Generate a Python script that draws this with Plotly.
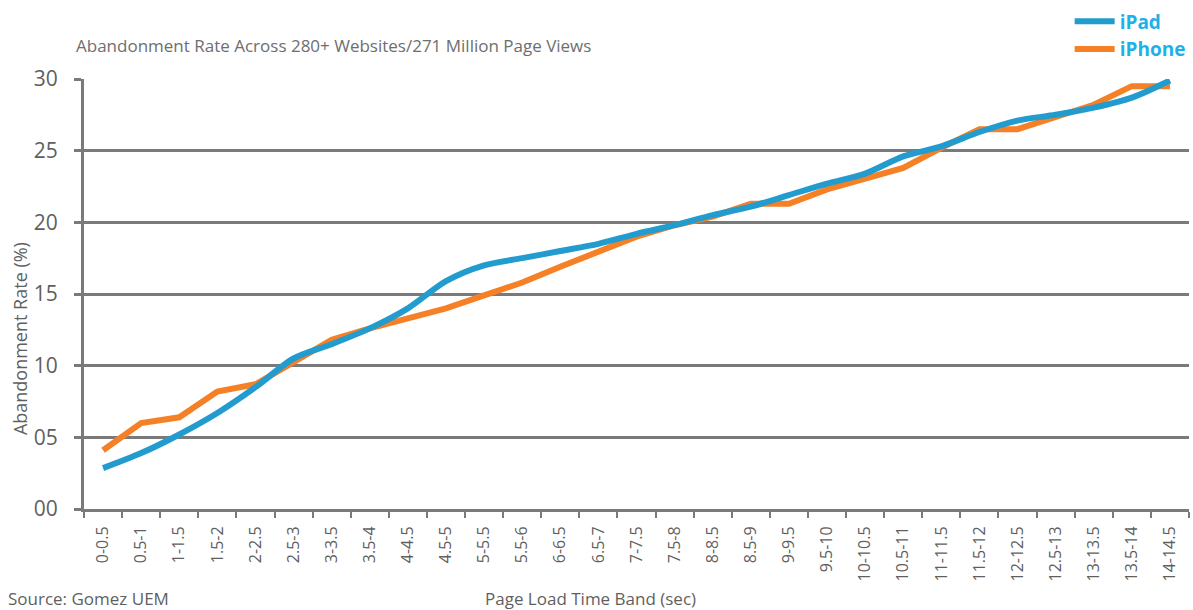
import plotly.graph_objects as go

bands = ["0-0.5", "0.5-1", "1-1.5", "1.5-2", "2-2.5", "2.5-3", "3-3.5", "3.5-4", "4-4.5",
         "4.5-5", "5-5.5", "5.5-6", "6-6.5", "6.5-7", "7-7.5", "7.5-8", "8-8.5", "8.5-9",
         "9-9.5", "9.5-10", "10-10.5", "10.5-11", "11-11.5", "11.5-12", "12-12.5",
         "12.5-13", "13-13.5", "13.5-14", "14-14.5"]

ipad = [2.85, 3.9, 5.2, 6.7, 8.5, 10.5, 11.5, 12.6, 14.0, 15.9, 17.0, 17.5, 18.0, 18.5, 19.2,
        19.8, 20.5, 21.1, 21.9, 22.7, 23.4, 24.6, 25.3, 26.3, 27.1, 27.5, 28.0, 28.7, 29.9]

iphone = [4.1, 6.0, 6.4, 8.2, 8.7, 10.3, 11.8, 12.6, 13.3, 14.0, 14.9, 15.8, 16.9, 17.9, 19.0,
          19.8, 20.4, 21.3, 21.3, 22.3, 23.0, 23.8, 25.2, 26.5, 26.5, 27.3, 28.2, 29.5, 29.5]

y_tickvals = [0, 5, 10, 15, 20, 25, 30]
y_ticktext = ["00", "05", "10", "15", "20", "25", "30"]

GRAY = "#7a7a7c"
TEXT = "#5f5f5f"
FONT = "Open Sans"

fig = go.Figure()
fig.add_trace(go.Scatter(x=bands, y=iphone, name="iPhone", mode="lines",
                         line=dict(color="#f58025", width=6), legendrank=2))
fig.add_trace(go.Scatter(x=bands, y=ipad, name="iPad", mode="lines",
                         line=dict(color="#229ccf", width=6, shape="spline", smoothing=0.8),
                         legendrank=1))

fig.update_layout(
    width=1193, height=610,
    margin=dict(l=84, r=2, t=79, b=101),
    plot_bgcolor="white", paper_bgcolor="white",
    font=dict(family=FONT, color=TEXT),
    showlegend=True,
    legend=dict(x=0.892, y=1.178, xanchor="left", yanchor="top",
                font=dict(size=19, color="#1eb1e8", family=FONT, weight="bold"),
                bgcolor="rgba(0,0,0,0)", itemwidth=40, tracegroupgap=0),
    xaxis=dict(type="category", tickangle=-90, tickson="boundaries",
               ticks="outside", ticklen=6, tickwidth=2, tickcolor=GRAY,
               showline=True, linecolor=GRAY, linewidth=3,
               showgrid=False, tickfont=dict(size=16, color=TEXT),
               ticklabelstandoff=8, range=[-0.5, 28.5]),
    yaxis=dict(range=[0, 30], tickvals=y_tickvals, ticktext=y_ticktext,
               ticks="outside", ticklen=7, tickwidth=2.5, tickcolor=GRAY,
               showline=True, linecolor=GRAY, linewidth=3,
               showgrid=True, gridcolor=GRAY, gridwidth=2.5, zeroline=False,
               tickfont=dict(size=21, color=TEXT), ticklabelstandoff=12),
    annotations=[
        dict(text="Abandonment Rate Across 280+ Websites/271 Million Page Views",
             xref="paper", yref="paper", x=(74 - 84) / 1107, y=(509 - 46) / 430,
             xanchor="left", yanchor="middle", showarrow=False,
             font=dict(size=17, color="#6e6e6e")),
        dict(text="Abandonment Rate (%)", xref="paper", yref="paper", textangle=-90,
             x=(20 - 84) / 1107, y=(509 - 339) / 430, xanchor="center", yanchor="middle",
             showarrow=False, font=dict(size=18, color=TEXT)),
        dict(text="Source: Gomez UEM", xref="paper", yref="paper",
             x=(6 - 84) / 1107, y=(509 - 598) / 430, xanchor="left", yanchor="middle",
             showarrow=False, font=dict(size=17, color=TEXT)),
        dict(text="Page Load Time Band (sec)", xref="paper", yref="paper",
             x=(591 - 84) / 1107, y=(509 - 598) / 430, xanchor="center", yanchor="middle",
             showarrow=False, font=dict(size=17, color=TEXT)),
    ],
)

fig.write_html("out.html")
